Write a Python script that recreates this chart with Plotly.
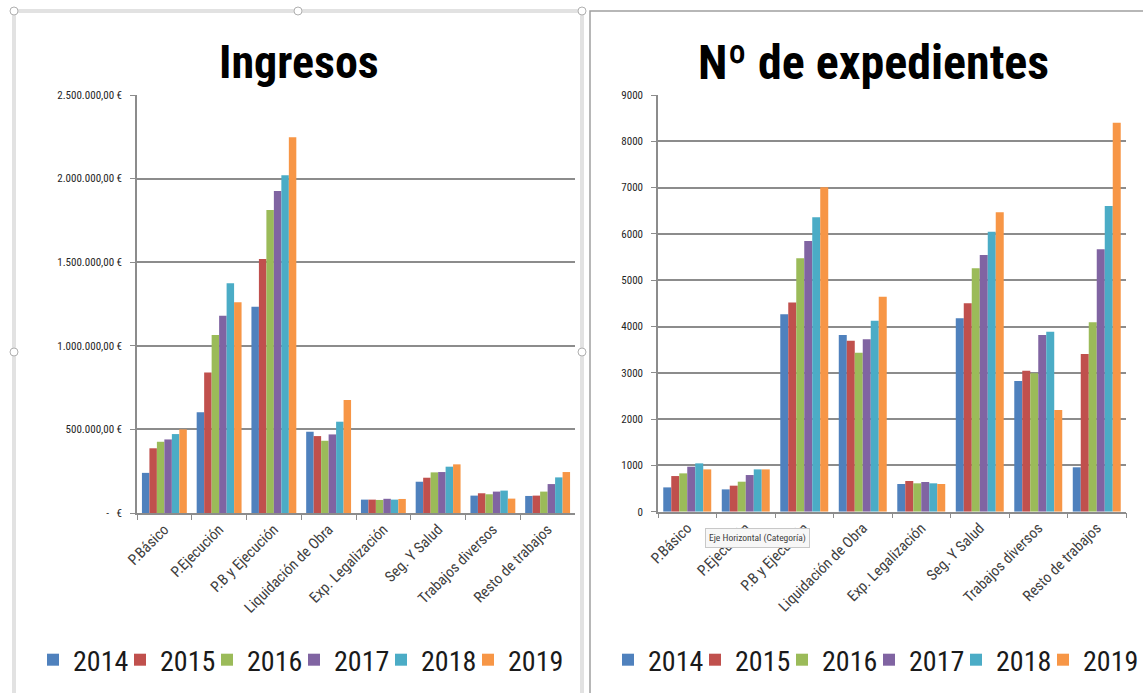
import plotly.graph_objects as go

W, H = 1143, 693

categories = ["P.Básico", "P.Ejecución", "P.B y Ejecución", "Liquidación de Obra",
              "Exp. Legalización", "Seg. Y Salud", "Trabajos diversos", "Resto de trabajos"]
years = ["2014", "2015", "2016", "2017", "2018", "2019"]
colors = ["#4F81BD", "#C0504D", "#9BBB59", "#8064A2", "#4BACC6", "#F79646"]

# Ingresos (€) per year, by category
ingresos_2014 = [240000, 602000, 1234000, 486000, 80000, 187000, 104000, 102000]
ingresos_2015 = [387000, 841000, 1519000, 460000, 80000, 211000, 118000, 104000]
ingresos_2016 = [426000, 1065000, 1812000, 432000, 78000, 243000, 112000, 128000]
ingresos_2017 = [440000, 1180000, 1926000, 470000, 85000, 245000, 128000, 173000]
ingresos_2018 = [472000, 1374000, 2020000, 546000, 80000, 277000, 134000, 213000]
ingresos_2019 = [500000, 1260000, 2247000, 676000, 84000, 291000, 86000, 245000]

# Nº de expedientes per year, by category
exp_2014 = [525, 482, 4262, 3816, 598, 4177, 2823, 959]
exp_2015 = [770, 562, 4521, 3693, 663, 4501, 3045, 3406]
exp_2016 = [828, 648, 5472, 3434, 613, 5257, 2989, 4090]
exp_2017 = [972, 792, 5846, 3722, 641, 5544, 3816, 5667]
exp_2018 = [1044, 914, 6357, 4125, 613, 6048, 3888, 6602]
exp_2019 = [914, 914, 7005, 4644, 598, 6466, 2197, 8402]

ingresos = [ingresos_2014, ingresos_2015, ingresos_2016, ingresos_2017, ingresos_2018, ingresos_2019]
expedientes = [exp_2014, exp_2015, exp_2016, exp_2017, exp_2018, exp_2019]

left_ticks = [0, 500000, 1000000, 1500000, 2000000, 2500000]
left_ticktext = [" -   €", "500.000,00 €", "1.000.000,00 €", "1.500.000,00 €",
                 "2.000.000,00 €", "2.500.000,00 €"]
right_ticks = [0, 1000, 2000, 3000, 4000, 5000, 6000, 7000, 8000, 9000]


def px(x):
    return x / W


def py(y):
    return 1 - y / H


FONT = "'Liberation Sans Narrow', 'Arial Narrow', 'Roboto Condensed', Lato, sans-serif"

fig = go.Figure()
for i, yr in enumerate(years):
    fig.add_trace(go.Bar(x=categories, y=ingresos[i], name=yr, marker_color=colors[i],
                         marker_line_width=0, xaxis="x", yaxis="y", legend="legend"))
for i, yr in enumerate(years):
    fig.add_trace(go.Bar(x=categories, y=expedientes[i], name=yr, marker_color=colors[i],
                         marker_line_width=0, xaxis="x2", yaxis="y2", legend="legend2"))

# blank trailing legend slots so the last legend label is not clipped
for ax, ay, lg in [("x", "y", "legend"), ("x2", "y2", "legend2")]:
    fig.add_trace(go.Scatter(x=[None], y=[None], mode="markers", name=" ",
                             marker=dict(color="rgba(0,0,0,0)", size=1),
                             xaxis=ax, yaxis=ay, legend=lg, hoverinfo="skip"))

ytick_font = dict(family=FONT, size=11, color="#262626")
xtick_font = dict(family=FONT, size=15, color="#404040")

xcommon = dict(showline=True, linecolor="#8c8c8c", linewidth=1.5, tickangle=-45,
               ticks="outside", tickson="boundaries", ticklen=5, tickcolor="#8c8c8c",
               tickfont=xtick_font, automargin=False)
ycommon = dict(showline=True, linecolor="#8c8c8c", linewidth=1.5,
               showgrid=True, gridcolor="#8c8c8c", gridwidth=1.5,
               ticks="outside", ticklen=5, tickcolor="#8c8c8c", zeroline=False,
               ticklabelstandoff=6, tickfont=ytick_font, automargin=False)

legend_common = dict(orientation="h", yanchor="middle", xanchor="center",
                     font=dict(family=FONT, size=28, color="#1a1a1a"),
                     itemwidth=30, entrywidth=42, entrywidthmode="pixels",
                     traceorder="normal", bgcolor="rgba(0,0,0,0)")

fig.update_layout(
    width=W, height=H,
    margin=dict(l=0, r=0, t=0, b=0, autoexpand=False),
    paper_bgcolor="white", plot_bgcolor="white",
    barmode="group", bargap=0.18, bargroupgap=0,
    xaxis=dict(domain=[px(137), px(575)], anchor="y", **xcommon),
    yaxis=dict(domain=[py(513), py(95)], anchor="x", range=[0, 2500000],
               tickvals=left_ticks, ticktext=left_ticktext, **ycommon),
    xaxis2=dict(domain=[px(658), px(1126)], anchor="y2", **xcommon),
    yaxis2=dict(domain=[py(511.7), py(95)], anchor="x2", range=[0, 9000],
                tickvals=right_ticks, **ycommon),
    legend=dict(x=px(337.5), y=py(660), **legend_common),
    legend2=dict(x=px(912.5), y=py(660), **legend_common),
    showlegend=True,
)

# Titles
fig.add_annotation(text="<b>Ingresos</b>", x=px(299), y=py(62), xref="paper", yref="paper",
                   xanchor="center", yanchor="middle",
                   showarrow=False, font=dict(family=FONT, size=46, color="black"))
fig.add_annotation(text="<b>Nº de expedientes</b>", x=px(873), y=py(62), xref="paper", yref="paper",
                   xanchor="center", yanchor="middle",
                   showarrow=False, font=dict(family=FONT, size=48, color="black"))

# Tooltip from the screenshot
fig.add_annotation(text="Eje Horizontal (Categoría)", x=px(757), y=py(538), xref="paper", yref="paper",
                   xanchor="center", yanchor="middle",
                   showarrow=False, font=dict(family=FONT, size=9.5, color="#404040"),
                   bgcolor="#f7f7f7", bordercolor="#c8c8c8", borderwidth=1, borderpad=3)

# Panel frames
fig.add_shape(type="rect", xref="paper", yref="paper", x0=px(14), x1=px(582), y0=py(700), y1=py(11),
              line=dict(color="#e2e2e2", width=4), fillcolor="rgba(0,0,0,0)", layer="below")
fig.add_shape(type="rect", xref="paper", yref="paper", x0=px(590), x1=px(1150), y0=py(700), y1=py(11),
              line=dict(color="#a0a0a0", width=1.5), fillcolor="rgba(0,0,0,0)", layer="below")
for hx, hy in [(14, 11), (298, 11), (582, 11), (14, 352), (582, 352)]:
    fig.add_shape(type="circle", xref="paper", yref="paper",
                  x0=px(hx - 4), x1=px(hx + 4), y0=py(hy + 4), y1=py(hy - 4),
                  line=dict(color="#b0b0b0", width=1), fillcolor="white")

fig.write_html("out.html", config={"displayModeBar": False},
               post_script="document.body.style.margin='0px';")
